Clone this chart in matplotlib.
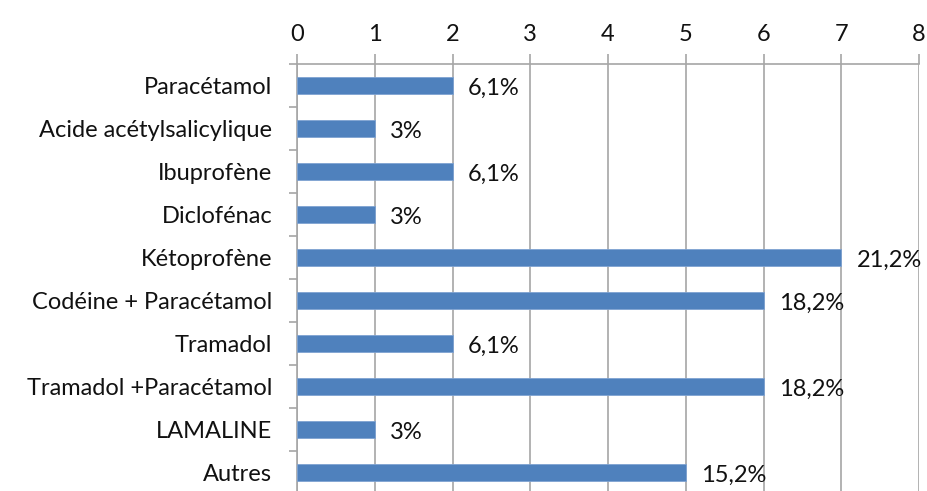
import matplotlib.pyplot as plt

categories = ["Paracétamol", "Acide acétylsalicylique", "Ibuprofène", "Diclofénac",
              "Kétoprofène", "Codéine + Paracétamol", "Tramadol",
              "Tramadol +Paracétamol", "LAMALINE", "Autres"]
counts = [2, 1, 2, 1, 7, 6, 2, 6, 1, 5]
percent_labels = ["6,1%", "3%", "6,1%", "3%", "21,2%", "18,2%", "6,1%", "18,2%", "3%", "15,2%"]
x_ticks = [0, 1, 2, 3, 4, 5, 6, 7, 8]

plt.rcParams['font.family'] = ['Lato', 'DejaVu Sans']

fig = plt.figure(figsize=(9.27, 4.91), dpi=100)
ax = fig.add_axes([297 / 927, -0.006, 622 / 927, 1 - 64 / 491 + 0.006])

grid_color = '#a6a6a6'
text_color = '#111111'
ypos = list(range(len(categories)))
ax.barh(ypos, counts, height=0.4, color='#4f81bd', edgecolor='#7fa3d2', linewidth=0.6, zorder=3)

for y, v, lab in zip(ypos, counts, percent_labels):
    ax.text(v + 0.2, y + 0.06, lab, va='center', ha='left', fontsize=17, color=text_color, zorder=4)

ax.set_xlim(0, 8)
ax.set_ylim(len(categories) - 0.5, -0.5)
ax.set_xticks(x_ticks)
ax.xaxis.tick_top()
ax.tick_params(axis='x', length=7, width=1.2, color=grid_color, labelsize=17, pad=7, labelcolor=text_color)

ax.set_yticks(ypos)
ax.set_yticklabels(categories)
ax.set_yticks([y + 0.5 for y in ypos[:-1]] + [-0.5], minor=True)
ax.tick_params(axis='y', which='major', length=0, labelsize=17, pad=18, labelcolor=text_color)
ax.tick_params(axis='y', which='minor', length=6, width=1.2, color=grid_color)

ax.grid(axis='x', color=grid_color, linewidth=1.2, zorder=0)
for side in ['right', 'bottom']:
    ax.spines[side].set_visible(False)
for side in ['left', 'top']:
    ax.spines[side].set_color(grid_color)
    ax.spines[side].set_linewidth(1.2)

fig.savefig('out.png', dpi=100)
